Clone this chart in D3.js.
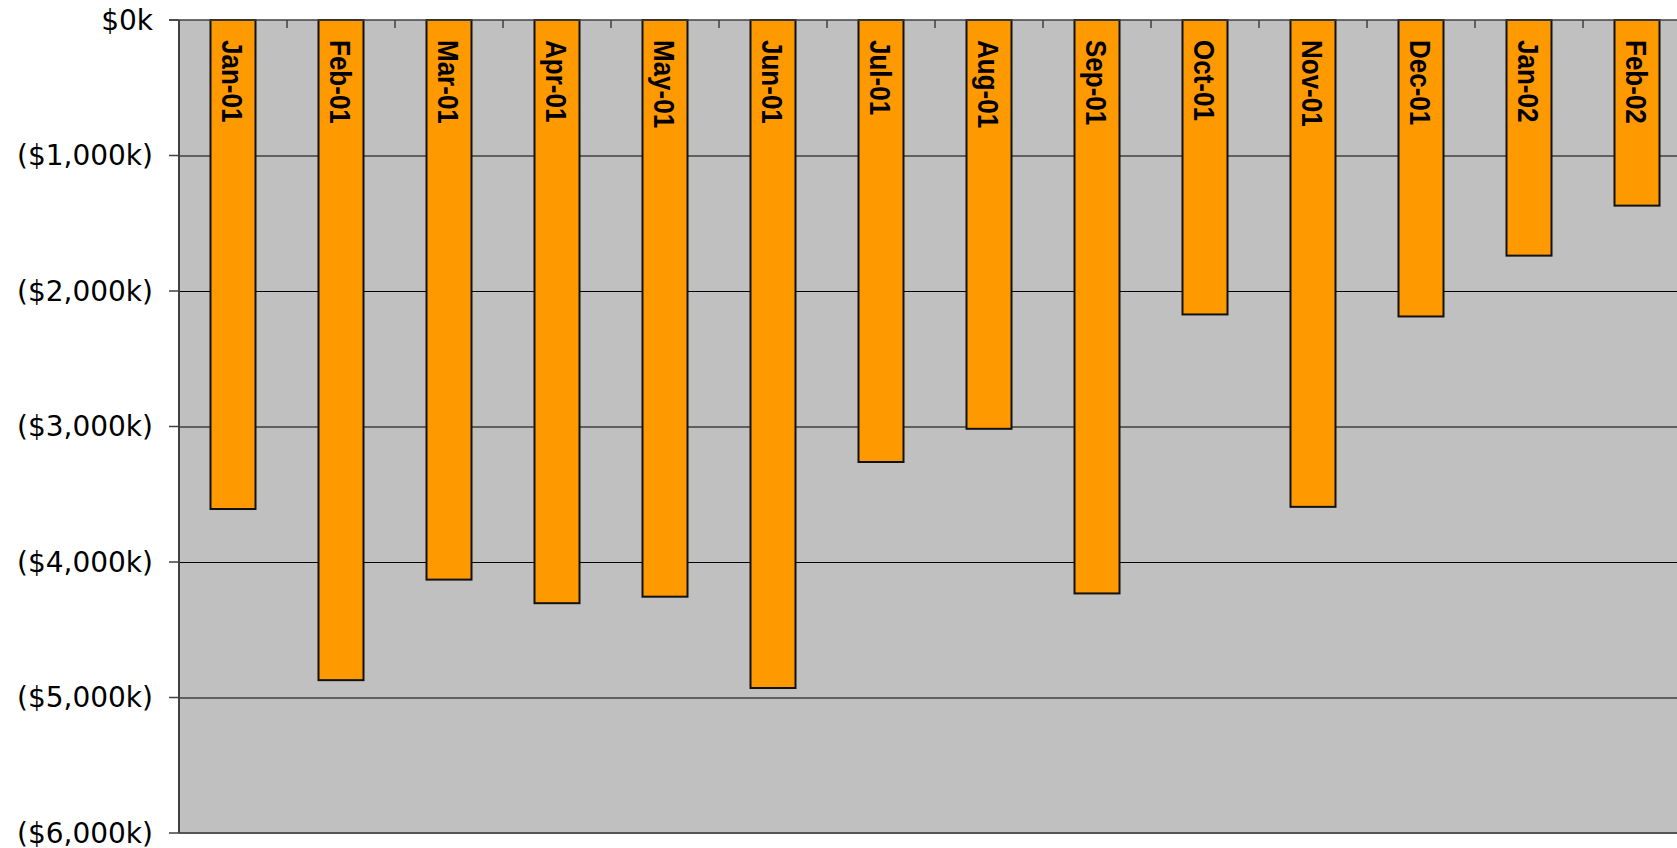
<!DOCTYPE html>
<meta charset="utf-8">
<head>
	<title>Monthly bars</title>
</head>

<style>

body{
	margin: 0;
	background-color: #fff;
}

svg{
	display: block;
}

.ylabel{
	font-family: "DejaVu Sans", Verdana, sans-serif;
	font-size: 28px;
	fill: #000;
}

.barlabel{
	font-family: "Liberation Sans", Arial, sans-serif;
	font-weight: bold;
	font-size: 26px;
	fill: #000;
}

</style>

<body>

<svg class="chart" width="1677" height="848"></svg>

<script src="https://cdnjs.cloudflare.com/ajax/libs/d3/7.8.5/d3.min.js"></script>
<script>

// data (in $k, negative)
var months = ['Jan-01', 'Feb-01', 'Mar-01', 'Apr-01', 'May-01', 'Jun-01', 'Jul-01',
	'Aug-01', 'Sep-01', 'Oct-01', 'Nov-01', 'Dec-01', 'Jan-02', 'Feb-02'];
var values = [-3609, -4872, -4130, -4304, -4256, -4930, -3262,
	-3017, -4232, -2173, -3593, -2188, -1739, -1370];
var yTicks = [0, -1000, -2000, -3000, -4000, -5000, -6000];

var svg = d3.select('.chart');

// note: "top" is a reserved window global, so plot* names
var plotLeft = 179, plotTop = 20, plotBottom = 833;
var step = 108;
var pad = 63 / 108;

var x = d3.scaleBand()
	.domain(months)
	.range([plotLeft, plotLeft + months.length * step])
	.paddingInner(pad)
	.paddingOuter(pad / 2);

var y = d3.scaleLinear()
	.domain([0, -6000])
	.range([plotTop, plotBottom]);

// plot area
svg.append('rect')
	.attr('x', plotLeft)
	.attr('y', plotTop)
	.attr('width', 1677 - plotLeft)
	.attr('height', plotBottom - plotTop)
	.style('fill', '#c0c0c0');

// gridlines
svg.append('g')
	.selectAll('line')
	.data(yTicks.slice(1, -1))
	.enter()
	.append('line')
	.attr('x1', plotLeft)
	.attr('x2', 1677)
	.attr('y1', function(d){ return y(d) + 0.5; })
	.attr('y2', function(d){ return y(d) + 0.5; })
	.style('stroke', '#000')
	.style('stroke-width', 1);

// bottom edge
svg.append('line')
	.attr('x1', plotLeft)
	.attr('x2', 1677)
	.attr('y1', plotBottom)
	.attr('y2', plotBottom)
	.style('stroke', '#555')
	.style('stroke-width', 2);

// bars
svg.append('g')
	.selectAll('rect')
	.data(values)
	.enter()
	.append('rect')
	.attr('x', function(d, i){ return x(months[i]); })
	.attr('y', y(0))
	.attr('width', x.bandwidth())
	.attr('height', function(d){ return y(d) - y(0); })
	.style('fill', '#ff9900')
	.style('stroke', '#111')
	.style('stroke-width', 2);

// bar labels (slightly widened across, like the original)
svg.append('g')
	.selectAll('text')
	.data(months)
	.enter()
	.append('text')
	.attr('class', 'barlabel')
	.attr('transform', function(d){
		return 'translate(' + (x(d) + x.bandwidth() / 2 - 1) + ',' + (plotTop + 20) + ') rotate(90) scale(1, 1.1)';
	})
	.attr('dominant-baseline', 'central')
	.text(function(d){ return d; });

// y axis
var yAxis = svg.append('g');

yAxis.append('line')
	.attr('x1', plotLeft)
	.attr('x2', plotLeft)
	.attr('y1', plotTop)
	.attr('y2', plotBottom)
	.style('stroke', '#404040')
	.style('stroke-width', 2);

yAxis.selectAll('line.tick')
	.data(yTicks)
	.enter()
	.append('line')
	.attr('class', 'tick')
	.attr('x1', plotLeft - 10)
	.attr('x2', plotLeft)
	.attr('y1', function(d){ return y(d); })
	.attr('y2', function(d){ return y(d); })
	.style('stroke', '#404040')
	.style('stroke-width', 1.5);

yAxis.selectAll('text')
	.data(yTicks)
	.enter()
	.append('text')
	.attr('class', 'ylabel')
	.attr('x', 153)
	.attr('y', function(d){ return y(d); })
	.attr('text-anchor', 'end')
	.attr('dominant-baseline', 'central')
	.text(function(d){
		return d === 0 ? '$0k' : '($' + d3.format(',')(-d) + 'k)';
	});

// category axis along zero
var xAxis = svg.append('g');

xAxis.append('line')
	.attr('x1', plotLeft - 10)
	.attr('x2', 1677)
	.attr('y1', y(0))
	.attr('y2', y(0))
	.style('stroke', '#404040')
	.style('stroke-width', 1.5);

xAxis.selectAll('line.tick')
	.data(months.slice(1))
	.enter()
	.append('line')
	.attr('class', 'tick')
	.attr('x1', function(d){ return x(d) - x.step() * x.paddingInner() / 2; })
	.attr('x2', function(d){ return x(d) - x.step() * x.paddingInner() / 2; })
	.attr('y1', y(0))
	.attr('y2', y(0) + 8)
	.style('stroke', '#404040')
	.style('stroke-width', 1.5);

</script>

</body>
</html>
